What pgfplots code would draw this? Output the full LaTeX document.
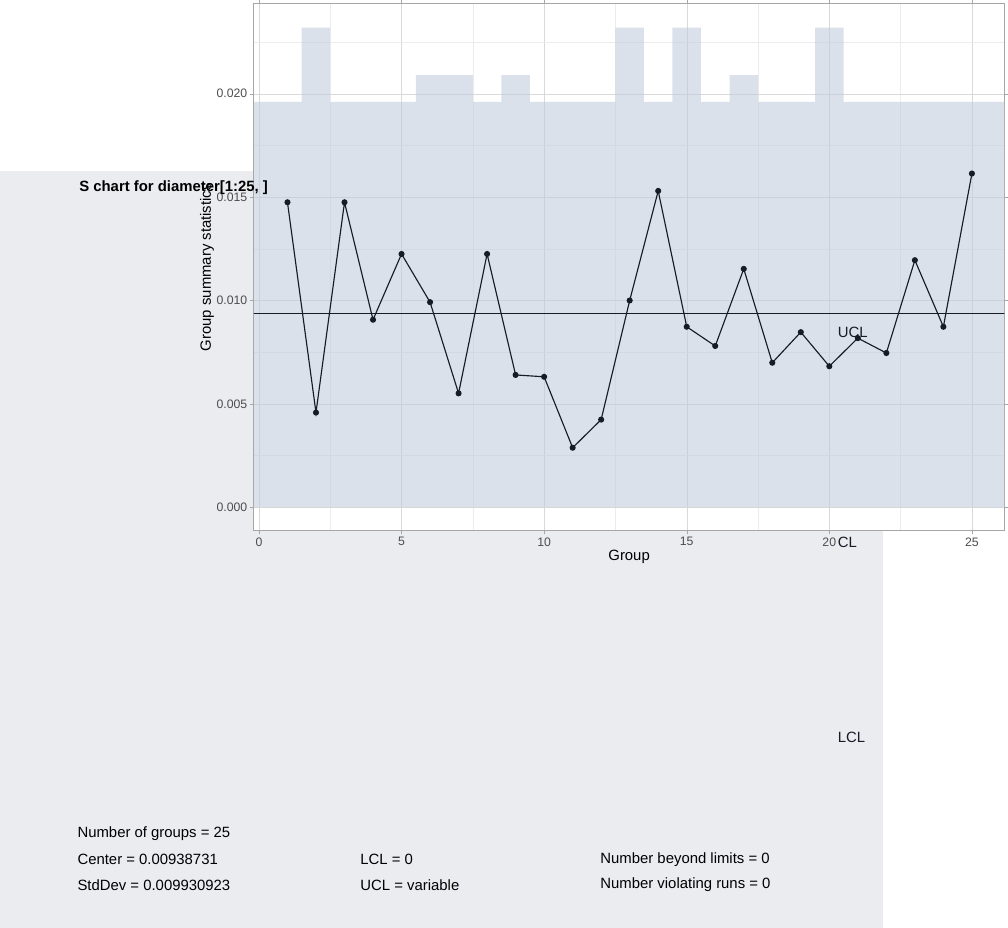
\documentclass[border=0pt]{standalone}
\usepackage{pgfplots}
\pgfplotsset{compat=1.18}
\usepackage{fontspec}
\setmainfont{Liberation Sans}
\definecolor{bg}{RGB}{235,236,240}
\definecolor{shade}{RGB}{195,205,222}
\definecolor{ln}{RGB}{22,27,38}
\definecolor{tk}{RGB}{77,77,77}
\begin{document}
\begin{tikzpicture}[x=1pt,y=1pt]
\fill[bg] (0,0) rectangle (1008,864);
\begin{axis}[at={(89,192)},anchor=south west,scale only axis,width=857pt,height=602pt,
  xmin=-0.18,xmax=26.14,ymin=-0.00114,ymax=0.02436,
  axis background/.style={fill=white},
  xtick={0,5,10,15,20,25},ytick={0,0.005,0.01,0.015,0.02},
  minor xtick={2.5,7.5,12.5,17.5,22.5},minor ytick={0.0025,0.0075,0.0125,0.0175,0.0225},
  yticklabel style={/pgf/number format/fixed,/pgf/number format/fixed zerofill,/pgf/number format/precision=3},
  scaled y ticks=false,
  /pgf/number format/assume math mode=true,
  ticklabel style={font=\fontsize{14}{16}\selectfont,text=tk},
  grid=both,major grid style={gray!30},minor grid style={gray!15},
  tick style={gray!70},tick align=outside,major tick length=4pt,minor tick length=0pt,
  axis line style={gray!70,line width=1pt},
  xlabel={Group},ylabel={Group summary statistics},
  label style={font=\fontsize{17}{19}\selectfont},
  xlabel style={yshift=2pt},ylabel style={yshift=-4pt},
  clip=true]
\addplot[const plot,fill=shade,fill opacity=0.6,draw=none] coordinates {
(-1,0.01961)(1.5,0.0232)(2.5,0.01961)(5.5,0.0209)(7.5,0.01961)(8.5,0.0209)(9.5,0.01961)
(12.5,0.0232)(13.5,0.01961)(14.5,0.0232)(15.5,0.01961)(16.5,0.0209)(17.5,0.01961)
(19.5,0.0232)(20.5,0.01961)(27,0.01961)(27,0)(-1,0)} -- cycle;
\addplot[ln,line width=1.3pt] coordinates {(-1,0.00938731)(27,0.00938731)};
\addplot[ln,line width=1.3pt,mark=*,mark size=2.8pt] coordinates {
(1,0.01475)(2,0.00458)(3,0.01475)(4,0.00907)(5,0.01225)(6,0.00992)(7,0.00551)(8,0.01225)
(9,0.0064)(10,0.00631)(11,0.00288)(12,0.00424)(13,0.0100)(14,0.0153)(15,0.00873)
(16,0.0078)(17,0.01153)(18,0.00699)(19,0.00847)(20,0.00682)(21,0.00818)(22,0.00746)
(23,0.01195)(24,0.00873)(25,0.01614)};
\end{axis}
\begin{scope}[font=\fontsize{17}{19}\selectfont,text=ln]
\node[anchor=west] at (953,864-184) {UCL};
\node[anchor=west] at (953,864-424) {CL};
\node[anchor=west] at (953,864-646) {LCL};
\end{scope}
\node[anchor=west,font=\bfseries\fontsize{17}{19}\selectfont] at (87,864-19) {S chart for diameter[1:25, ]};
\begin{scope}[font=\fontsize{17}{19}\selectfont]
\node[anchor=west] at (85,864-757) {Number of groups = 25};
\node[anchor=west] at (85,864-786) {Center = 0.00938731};
\node[anchor=west] at (85,864-815) {StdDev = 0.009930923};
\node[anchor=west] at (408,864-786) {LCL = 0};
\node[anchor=west] at (408,864-815) {UCL = variable};
\node[anchor=west] at (682,864-786) {Number beyond limits = 0};
\node[anchor=west] at (682,864-815) {Number violating runs = 0};
\end{scope}
\end{tikzpicture}
\end{document}
